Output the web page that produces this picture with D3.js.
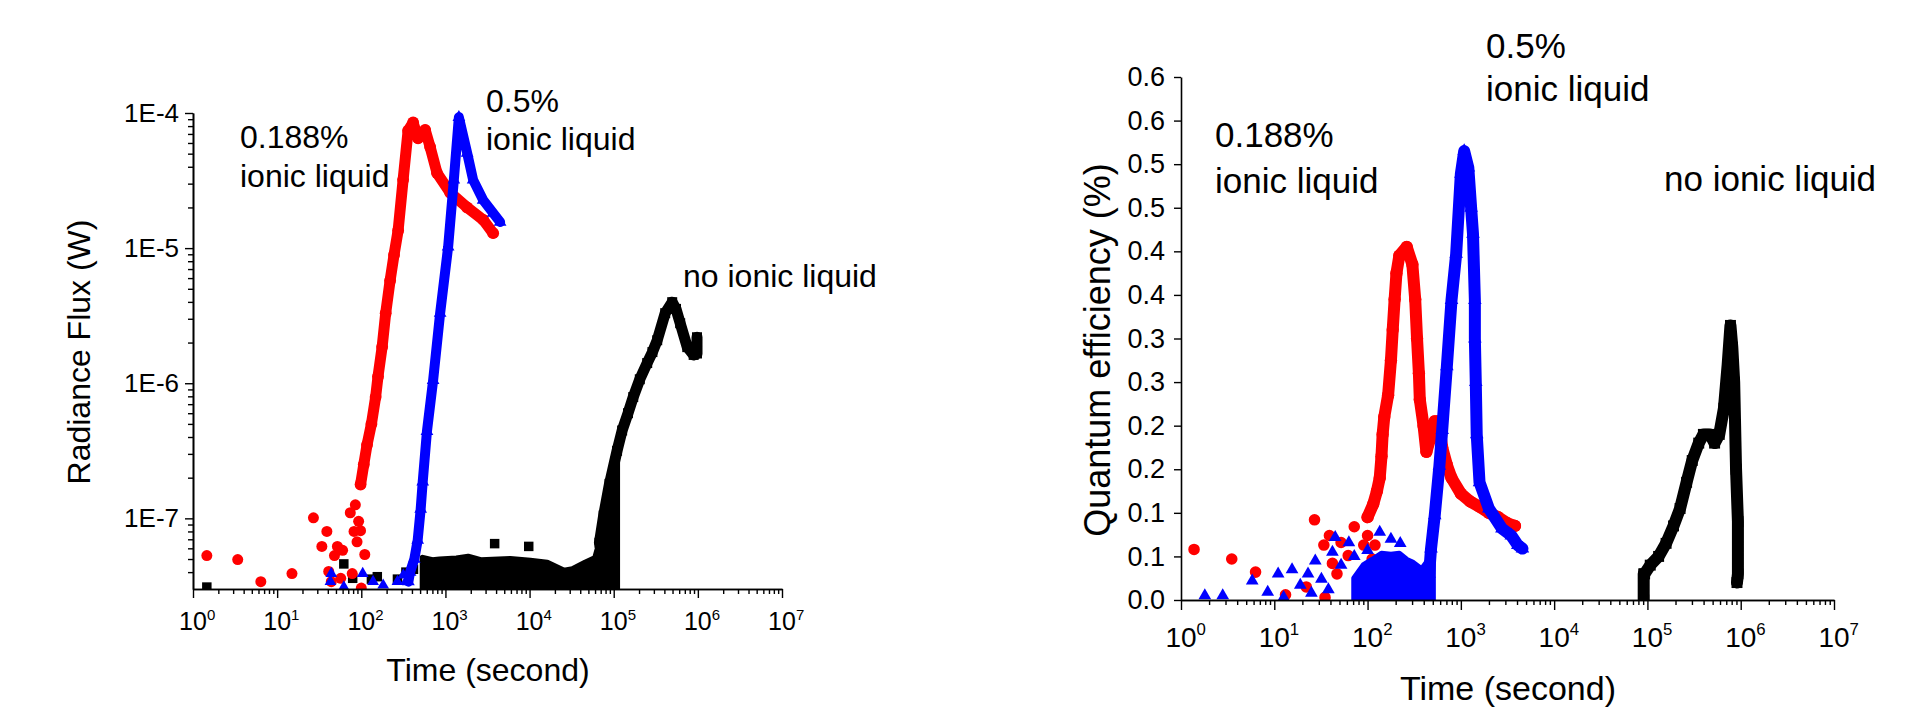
<!DOCTYPE html>
<html><head><meta charset="utf-8">
<script src="https://cdn.jsdelivr.net/npm/d3@7"></script>
<style>
body{margin:0;background:#fff;}
text{font-family:"Liberation Sans",Arial,sans-serif;fill:#000;}
</style>
</head><body>
<svg id="chart" width="1918" height="717"></svg>
<script>
// ---------- tick values / labels ----------
const timeTicks = [1, 10, 100, 1000, 10000, 100000, 1000000, 10000000];
const timeTickExp = ["0", "1", "2", "3", "4", "5", "6", "7"];
const fluxTicks = [1e-7, 1e-6, 1e-5, 1e-4];
const fluxTickLabels = ["1E-7", "1E-6", "1E-5", "1E-4"];
const qeTicks = [0, 0.05, 0.1, 0.15, 0.2, 0.25, 0.3, 0.35, 0.4, 0.45, 0.5, 0.55, 0.6];
const qeTickLabels = ["0.0", "0.1", "0.1", "0.2", "0.2", "0.3", "0.3", "0.4", "0.4", "0.5", "0.5", "0.6", "0.6"];

// ---------- left panel: radiance flux (W) vs time (s) ----------
const fluxBlackScatter = [[1.46,3.1e-8],[62,4.6e-8],[79,3.6e-8],[132,3.55e-8],[155,3.7e-8],[269,3.55e-8],[339,4.0e-8],[417,4.2e-8],[3846,6.5e-8],[9772,6.2e-8]];
const fluxBlackNoiseTop = [[537,5.1e-8],[700,4.9e-8],[851,4.95e-8],[1349,5.05e-8],[1862,5.2e-8],[2630,4.9e-8],[5890,5.0e-8],[10230,4.85e-8],[16220,4.7e-8],[25700,4.1e-8],[32360,4.2e-8],[45710,4.7e-8],[60260,5.1e-8],[67600,6.6e-8],[75900,1.05e-7],[89100,1.8e-7],[109600,3.1e-7]];
const fluxBlackTrace = [[67600,6.6e-8],[75900,1.05e-7],[89100,1.8e-7],[109600,3.16e-7],[125900,4.47e-7],[147900,6.0e-7],[170600,7.9e-7],[204200,1.07e-6],[250000,1.41e-6],[288400,1.7e-6],[328900,2.08e-6],[409300,3.3e-6],[495500,3.98e-6],[549500,3.55e-6],[616600,2.78e-6],[748200,1.85e-6],[891300,1.62e-6],[977200,1.66e-6],[977200,2.19e-6]];

const fluxRedScatter = [[1.46,5.3e-8],[3.4,4.95e-8],[6.4,3.4e-8],[15,3.9e-8],[27,1.01e-7],[34,6.2e-8],[39,8.0e-8],[41,4.05e-8],[44,3.4e-8],[48,5.3e-8],[52,6.2e-8],[57,3.6e-8],[60,5.8e-8],[74,1.1e-7],[78,3.9e-8],[82,8.0e-8],[85,1.26e-7],[89,6.7e-8],[93,9.5e-8],[98,8.1e-8],[100,3.05e-8],[110,5.4e-8]];
const fluxRedTrace = [[98,1.78e-7],[107,2.5e-7],[117,3.5e-7],[132,5.0e-7],[148,7.9e-7],[158,1.12e-6],[177,1.86e-6],[195,3.3e-6],[220,5.75e-6],[245,8.9e-6],[274,1.35e-5],[314,3.2e-5],[360,7.4e-5],[413,8.5e-5],[473,6.5e-5],[574,7.5e-5],[658,5.6e-5],[794,3.6e-5],[1140,2.57e-5],[1810,2.0e-5],[2810,1.62e-5],[3690,1.29e-5]];

const fluxBlueScatter = [[43,3.4e-8],[44,3.9e-8],[62,3.1e-8],[104,3.9e-8],[138,3.4e-8],[182,3.2e-8],[269,3.4e-8],[316,3.8e-8],[339,3.4e-8]];
const fluxBlueTrace = [[363,3.4e-8],[380,4.0e-8],[427,5.0e-8],[468,6.9e-8],[508,1.17e-7],[537,1.86e-7],[603,4.4e-7],[714,1.05e-6],[865,3.3e-6],[1077,1.02e-5],[1259,3.2e-5],[1445,9.3e-5],[1811,5.06e-5],[2133,3.2e-5],[2805,2.27e-5],[3690,1.82e-5],[4467,1.56e-5]];

// ---------- right panel: quantum efficiency (%) vs time (s) ----------
const qeBlackTrace = [[91200,0.0],[91200,0.03],[93300,0.03],[107200,0.04],[131800,0.05],[158500,0.065],[190500,0.085],[223900,0.105],[263000,0.135],[302000,0.16],[354800,0.18],[398100,0.19],[467700,0.19],[524800,0.18],[588800,0.19],[660700,0.22],[724400,0.27],[776200,0.315],[812800,0.29],[851100,0.25],[891300,0.15],[933300,0.09],[933300,0.03],[912000,0.02]];

const qeRedScatter = [[1.38,0.058],[3.5,0.047],[6.3,0.032],[13.2,0.006],[22,0.015],[27,0.092],[34,0.063],[35,0.003],[39,0.074],[42,0.042],[47,0.03],[52,0.066],[62,0.051],[72,0.084],[79,0.02],[91,0.063],[100,0.074],[112,0.047],[120,0.063]];
const qeRedTrace = [[100,0.095],[115,0.11],[126,0.125],[135,0.14],[141,0.165],[145,0.19],[151,0.21],[166,0.235],[178,0.275],[186,0.31],[195,0.345],[204,0.375],[219,0.395],[263,0.405],[302,0.385],[324,0.345],[339,0.3],[355,0.26],[363,0.23],[398,0.2],[427,0.17],[468,0.185],[525,0.205],[575,0.205],[631,0.175],[708,0.155],[794,0.14],[1000,0.122],[1259,0.113],[1585,0.107],[1995,0.1],[2512,0.095],[3162,0.088],[3802,0.085]];

const qeBlueScatter = [[1.8,0.005],[2.8,0.005],[5.8,0.022],[8.5,0.009],[11,0.03],[12.6,0.003],[15.5,0.035],[19,0.017],[23,0.03],[25,0.008],[27.5,0.045],[32,0.024],[38,0.012],[42,0.055],[45,0.072],[52,0.04],[63,0.066],[72,0.05],[100,0.057],[135,0.078],[178,0.07],[224,0.065]];
const qeBlueNoiseTop = [[72,0.025],[91,0.04],[112,0.046],[141,0.053],[178,0.052],[219,0.053],[263,0.046],[302,0.043],[380,0.035],[437,0.044],[501,0.05]];
const qeBlueTrace = [[457,0.03],[479,0.059],[525,0.097],[589,0.154],[631,0.195],[708,0.268],[794,0.344],[891,0.397],[1000,0.489],[1086,0.515],[1202,0.496],[1288,0.45],[1349,0.42],[1413,0.344],[1413,0.30],[1445,0.25],[1479,0.19],[1585,0.135],[1995,0.105],[2754,0.082],[3467,0.074],[4074,0.063],[4571,0.059]];

// ---------- drawing ----------
const svg = d3.select("#chart");
const RED = "#ff0000", BLUE = "#0000ff", BLACK = "#000000";
const FONT = '"Liberation Sans",Arial,sans-serif';

function superTicks(g, x, yBase, fs) {
  timeTicks.forEach((t, i) => {
    const tx = g.append("text")
      .attr("x", x(t) - 0.556 * fs)
      .attr("y", yBase)
      .attr("font-size", fs)
      .text("10");
    tx.append("tspan")
      .attr("dy", -0.42 * fs)
      .attr("font-size", 0.6 * fs)
      .text(timeTickExp[i]);
  });
}

function minorLog(lo, hi) {
  const out = [];
  for (let e = Math.floor(Math.log10(lo)); e <= Math.ceil(Math.log10(hi)); e++) {
    for (let m = 2; m <= 9; m++) {
      const v = m * Math.pow(10, e);
      if (v > lo * 1.0001 && v < hi) out.push(v);
    }
  }
  return out;
}

function drawMarkers(g, data, x, y, type, size, color) {
  g.selectAll(null).data(data).enter().append("path")
    .attr("d", d3.symbol().type(type).size(size))
    .attr("transform", d => `translate(${x(d[0])},${y(d[1])})`)
    .attr("fill", color);
}
function drawTrace(g, data, x, y, type, size, color, width) {
  g.append("path").datum(data)
    .attr("d", d3.line().x(d => x(d[0])).y(d => y(d[1])))
    .attr("fill", "none").attr("stroke", color)
    .attr("stroke-width", width).attr("stroke-linejoin", "round").attr("stroke-linecap", "round");
  drawMarkers(g, data, x, y, type, size, color);
}
function drawBand(g, data, x, y, yBottom, color, width) {
  g.append("path").datum(data)
    .attr("d", d3.area().x(d => x(d[0])).y0(yBottom + 10).y1(d => y(d[1])))
    .attr("fill", color).attr("stroke", color).attr("stroke-width", width).attr("stroke-linejoin", "round");
}

// ===== LEFT PANEL =====
{
  const x = d3.scaleLog().domain([1, 1e7]).range([193, 782]);
  const y = d3.scaleLog().domain([3e-8, 1e-4]).range([589, 113]);
  const g = svg.append("g");
  const clip = svg.append("clipPath").attr("id", "clipL");
  clip.append("rect").attr("x", 193).attr("y", 100).attr("width", 600).attr("height", 489);
  const plot = g.append("g").attr("clip-path", "url(#clipL)");

  const sq = d3.symbolSquare, ci = d3.symbolCircle, tr = d3.symbolTriangle;
  drawBand(plot, fluxBlackNoiseTop, x, y, 589, BLACK, 6);
  drawMarkers(plot, fluxBlackScatter, x, y, sq, 90, BLACK);
  drawTrace(plot, fluxBlackTrace, x, y, sq, 100, BLACK, 11);
  drawMarkers(plot, fluxRedScatter, x, y, ci, 95, RED);
  drawTrace(plot, fluxRedTrace, x, y, ci, 110, RED, 11);
  drawMarkers(plot, fluxBlueScatter, x, y, tr, 60, BLUE);
  drawTrace(plot, fluxBlueTrace, x, y, tr, 70, BLUE, 10);

  // axes
  const ax = g.append("g").attr("transform", "translate(0,589)");
  ax.call(d3.axisBottom(x).tickValues(timeTicks).tickFormat("").tickSize(9).tickSizeOuter(0));
  const axm = g.append("g").attr("transform", "translate(0,589)");
  axm.call(d3.axisBottom(x).tickValues(minorLog(1, 1e7)).tickFormat("").tickSize(5).tickSizeOuter(0));
  const ay = g.append("g").attr("transform", "translate(193,0)");
  ay.call(d3.axisLeft(y).tickValues(fluxTicks).tickFormat((d, i) => fluxTickLabels[i]).tickSize(8).tickPadding(6).tickSizeOuter(0));
  const aym = g.append("g").attr("transform", "translate(193,0)");
  aym.call(d3.axisLeft(y).tickValues(minorLog(3e-8, 1e-4)).tickFormat("").tickSize(5).tickSizeOuter(0));
  g.selectAll(".domain").attr("stroke-width", 1.6);
  g.selectAll(".tick line").attr("stroke-width", 1.4);
  ay.selectAll("text").attr("font-size", 26).style("font-family", FONT);
  superTicks(g, x, 630, 25);

  g.append("text").attr("transform", "translate(90,352) rotate(-90)")
    .attr("text-anchor", "middle").attr("font-size", 32).text("Radiance Flux (W)");
  g.append("text").attr("x", 488).attr("y", 681)
    .attr("text-anchor", "middle").attr("font-size", 32).text("Time (second)");

  const ann = [["0.188%", 240, 148], ["ionic liquid", 240, 187], ["0.5%", 486, 112], ["ionic liquid", 486, 150], ["no ionic liquid", 683, 287]];
  ann.forEach(a => g.append("text").attr("x", a[1]).attr("y", a[2]).attr("font-size", 32).text(a[0]));
}

// ===== RIGHT PANEL =====
{
  const x = d3.scaleLog().domain([1, 1e7]).range([1181, 1834]);
  const y = d3.scaleLinear().domain([0, 0.6]).range([600, 77]);
  const g = svg.append("g");
  const clip = svg.append("clipPath").attr("id", "clipR");
  clip.append("rect").attr("x", 1181).attr("y", 60).attr("width", 660).attr("height", 540);
  const plot = g.append("g").attr("clip-path", "url(#clipR)");

  const sq = d3.symbolSquare, ci = d3.symbolCircle, tr = d3.symbolTriangle;
  drawTrace(plot, qeBlackTrace, x, y, sq, 120, BLACK, 12);
  drawMarkers(plot, qeRedScatter, x, y, ci, 105, RED);
  drawTrace(plot, qeRedTrace, x, y, ci, 120, RED, 12);
  drawBand(plot, qeBlueNoiseTop, x, y, 600, BLUE, 6);
  drawMarkers(plot, qeBlueScatter, x, y, tr, 70, BLUE);
  drawTrace(plot, qeBlueTrace, x, y, tr, 80, BLUE, 12);

  const ax = g.append("g").attr("transform", "translate(0,600)");
  ax.call(d3.axisBottom(x).tickValues(timeTicks).tickFormat("").tickSize(10).tickSizeOuter(0));
  const axm = g.append("g").attr("transform", "translate(0,600)");
  axm.call(d3.axisBottom(x).tickValues(minorLog(1, 1e7)).tickFormat("").tickSize(5).tickSizeOuter(0));
  const ay = g.append("g").attr("transform", "translate(1181,0)");
  ay.call(d3.axisLeft(y).tickValues(qeTicks).tickFormat((d, i) => qeTickLabels[i]).tickSize(7).tickPadding(9).tickSizeOuter(0));
  g.selectAll(".domain").attr("stroke-width", 1.6);
  g.selectAll(".tick line").attr("stroke-width", 1.4);
  ay.selectAll("text").attr("font-size", 27).style("font-family", FONT);
  superTicks(g, x, 647, 28);

  g.append("text").attr("transform", "translate(1110,350) rotate(-90)")
    .attr("text-anchor", "middle").attr("font-size", 36).text("Quantum efficiency (%)");
  g.append("text").attr("x", 1508).attr("y", 700)
    .attr("text-anchor", "middle").attr("font-size", 34).text("Time (second)");

  const ann = [["0.5%", 1486, 58], ["ionic liquid", 1486, 101], ["0.188%", 1215, 147], ["ionic liquid", 1215, 193], ["no ionic liquid", 1664, 191]];
  ann.forEach(a => g.append("text").attr("x", a[1]).attr("y", a[2]).attr("font-size", 35).text(a[0]));
}
</script>
</body></html>
